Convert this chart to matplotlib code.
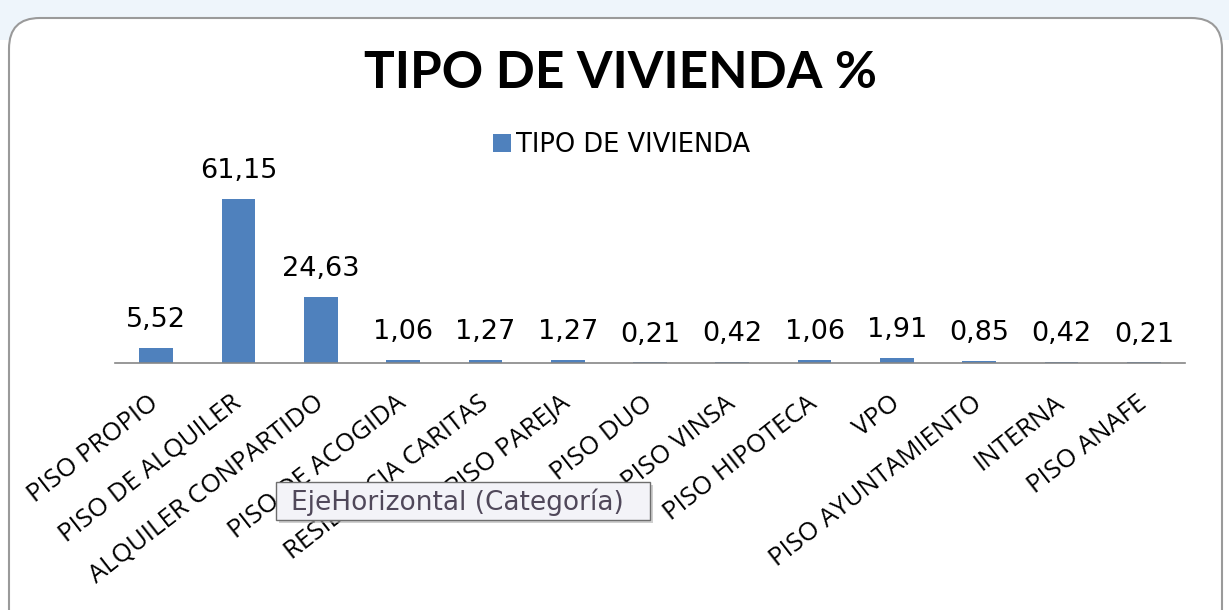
import matplotlib
matplotlib.use("Agg")
import matplotlib.pyplot as plt
from matplotlib.patches import FancyBboxPatch, Rectangle

categories = ["PISO PROPIO", "PISO DE ALQUILER", "ALQUILER CONPARTIDO", "PISO DE ACOGIDA",
              "RESIDENCIA CARITAS", "PISO PAREJA", "PISO DUO", "PISO VINSA",
              "PISO HIPOTECA", "VPO", "PISO AYUNTAMIENTO", "INTERNA", "PISO ANAFE"]
values = [5.52, 61.15, 24.63, 1.06, 1.27, 1.27, 0.21, 0.42, 1.06, 1.91, 0.85, 0.42, 0.21]
value_labels = ["5,52", "61,15", "24,63", "1,06", "1,27", "1,27", "0,21", "0,42",
                "1,06", "1,91", "0,85", "0,42", "0,21"]
series_name = "TIPO DE VIVIENDA"
title = "TIPO DE VIVIENDA %"
tooltip = "EjeHorizontal (Categoría)"

W, H = 1229, 610
fig = plt.figure(figsize=(W / 100, H / 100), dpi=100)
fig.patch.set_facecolor("white")

def fx(px):
    return px / W

def fy(py):
    return 1 - py / H

# background strip (spreadsheet) and chart frame
fig.patches.append(Rectangle((0, fy(40)), 1, 40 / H, transform=fig.transFigure,
                             facecolor="#eef5fb", edgecolor="none", zorder=0))
fig.patches.append(FancyBboxPatch((fx(9), fy(640)), 1213 / W, (640 - 18) / H,
                                  boxstyle="round,pad=0,rounding_size=0.025",
                                  transform=fig.transFigure, facecolor="white",
                                  edgecolor="#9a9a9a", linewidth=1.5, zorder=1,
                                  mutation_aspect=W / H))

ax = fig.add_axes([fx(115), fy(363), (1185 - 115) / W, (363 - 175) / H])
ax.set_zorder(2)
ax.patch.set_alpha(0)
x = list(range(len(categories)))
bars = ax.bar(x, values, width=0.41, color="#4F81BD", label=series_name)
ax.set_xlim(-0.5, len(categories) - 0.5)
ax.set_ylim(0, 70)
for xi, v, lab in zip(x, values, value_labels):
    ax.annotate(lab, (xi, v), xytext=(0, 20), textcoords="offset points",
                ha="center", va="center", fontsize=19.5, family="DejaVu Sans", color="black")

for s in ["top", "right", "left"]:
    ax.spines[s].set_visible(False)
ax.spines["bottom"].set_color("#868686")
ax.spines["bottom"].set_linewidth(1.2)
ax.set_yticks([])
ax.set_xticks(x)
ax.set_xticklabels(categories, rotation=38, ha="right", va="center", rotation_mode="anchor",
                   fontsize=18.5, family="Open Sans")
ax.tick_params(axis="x", length=0, pad=27)

fig.text(fx(620), fy(74), title, ha="center", va="center", fontsize=37,
         fontweight="bold", family=["Lato"])
leg = fig.legend(handles=[bars], labels=[series_name], loc="center",
                 bbox_to_anchor=(fx(622), fy(145)), frameon=False,
                 prop={"family": "DejaVu Sans", "size": 18.5},
                 handlelength=0.7, handleheight=0.7, handletextpad=0.2)

# tooltip box with shadow
fig.patches.append(Rectangle((fx(279), fy(523)), 374 / W, 38 / H, transform=fig.transFigure,
                             facecolor="#b0b0b0", edgecolor="none", alpha=0.6, zorder=9))
fig.patches.append(Rectangle((fx(276), fy(520)), 374 / W, 38 / H, transform=fig.transFigure,
                             facecolor="#f3f3f8", edgecolor="#6e6e6e", linewidth=1, zorder=9.5))
fig.text(fx(457), fy(502), tooltip, ha="center", va="center", fontsize=19,
         family="DejaVu Sans", color="#50485a", zorder=10)

fig.savefig("out.png", dpi=100)
